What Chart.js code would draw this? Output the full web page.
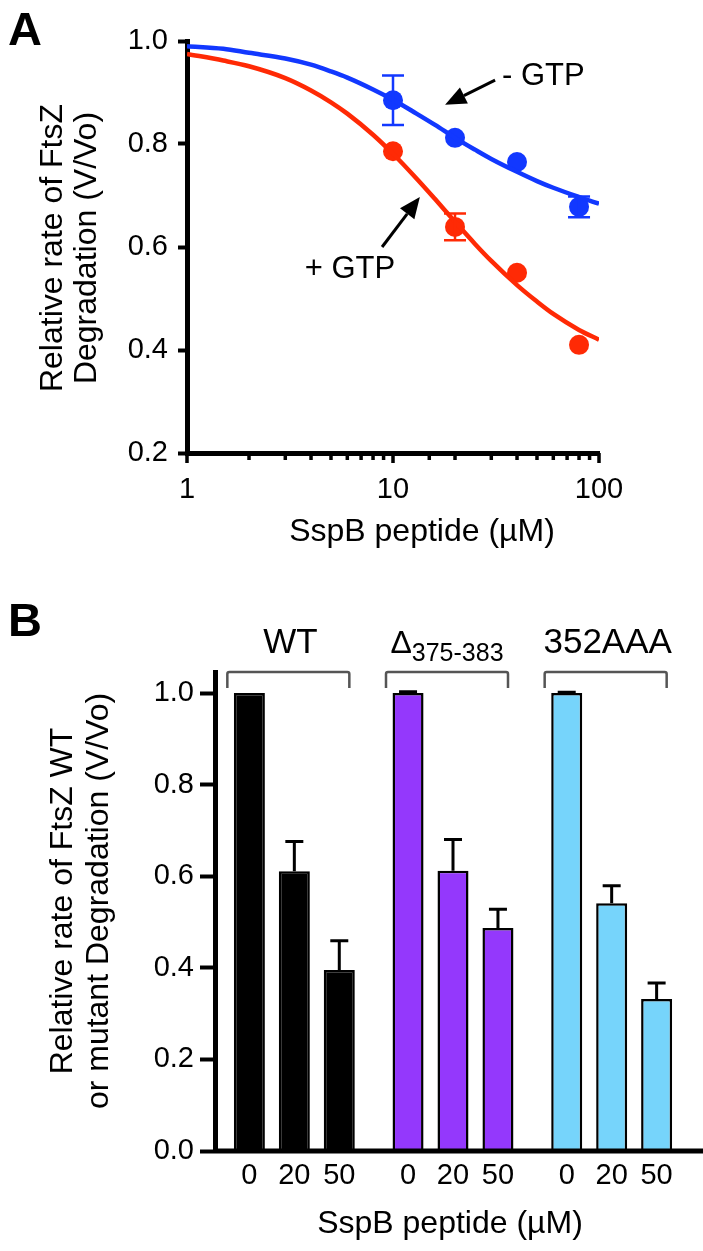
<!DOCTYPE html>
<html>
<head>
<meta charset="utf-8">
<script src="https://cdn.jsdelivr.net/npm/chart.js@4.4.1/dist/chart.umd.min.js"></script>
<style>
  html, body { margin: 0; padding: 0; background: #fff; }
  #wrap { position: relative; width: 703px; height: 1251px; }
  #cA { position: absolute; left: 0; top: 0; }
  #cB { position: absolute; left: 0; top: 600px; }
</style>
</head>
<body>
<div id="wrap">
  <canvas id="cA" width="703" height="600"></canvas>
  <canvas id="cB" width="703" height="651"></canvas>
</div>
<script>
// --- Panel A data ---
const concA = [10, 20, 40, 80];
const minusGTP = [0.885, 0.812, 0.765, 0.678];
const minusGTPErr = [0.048, 0, 0, 0.02];
const plusGTP = [0.786, 0.639, 0.550, 0.410];
const plusGTPErr = [0, 0.026, 0, 0];
// fitted curves
const fitX = [1, 1.5, 2, 3, 4, 5, 6, 8, 10, 13, 16, 20, 25, 30, 40, 50, 60, 80, 100];
const fitMinus = [0.990, 0.985, 0.977, 0.966, 0.954, 0.941, 0.929, 0.906, 0.886, 0.859, 0.837, 0.812, 0.789, 0.771, 0.746, 0.728, 0.715, 0.697, 0.684];
const fitPlus = [0.975, 0.962, 0.951, 0.928, 0.904, 0.881, 0.859, 0.818, 0.781, 0.733, 0.693, 0.649, 0.606, 0.573, 0.526, 0.494, 0.470, 0.439, 0.420];
const yTicksA = [0.2, 0.4, 0.6, 0.8, 1.0];
const xLabelsA = [1, 10, 100];

// --- Panel B data ---
const groupsB = ['WT', '\u0394375-383', '352AAA'];
const dosesB = ['0', '20', '50'];
const wtRate = [1.0, 0.611, 0.395];
const wtErr = [0, 0.065, 0.064];
const delRate = [1.0, 0.612, 0.487];
const delErr = [0.003, 0.068, 0.041];
const aaaRate = [1.0, 0.541, 0.332];
const aaaErr = [0.002, 0.038, 0.035];
const yTicksB = [0, 0.2, 0.4, 0.6, 0.8, 1.0];

// --- Style ---
const FONT = "'Liberation Sans', Arial, Helvetica, sans-serif";
const BLUE = '#1238ff', RED = '#ff2a05';
const BLACK = '#000000', PURPLE = '#9438fc', CYAN = '#76d4fb';
Chart.defaults.font.family = FONT;
Chart.defaults.color = '#000';

function arrow(ctx, x1, y1, x2, y2){
  const a = Math.atan2(y2 - y1, x2 - x1), L = 21, W = 9;
  const bx = x2 - L * Math.cos(a), by = y2 - L * Math.sin(a);
  ctx.beginPath(); ctx.moveTo(x1, y1); ctx.lineTo(bx, by); ctx.stroke();
  ctx.beginPath();
  ctx.moveTo(x2, y2);
  ctx.lineTo(bx + W * Math.sin(a), by - W * Math.cos(a));
  ctx.lineTo(bx - W * Math.sin(a), by + W * Math.cos(a));
  ctx.closePath(); ctx.fill();
}
function yTitle(ctx, lines, xs, cy, size){
  ctx.save();
  ctx.font = `${size}px ${FONT}`; ctx.textAlign = 'center'; ctx.textBaseline = 'alphabetic';
  lines.forEach((t, i) => {
    ctx.save(); ctx.translate(xs[i], cy); ctx.rotate(-Math.PI / 2); ctx.fillText(t, 0, 0); ctx.restore();
  });
  ctx.restore();
}

// --- Panel A ---
const annotA = {
  id: 'annotA',
  afterDatasetsDraw(chart){
    const { ctx, scales: { x, y } } = chart;
    ctx.save();
    ctx.lineWidth = 2.5;
    [[minusGTP, minusGTPErr, BLUE], [plusGTP, plusGTPErr, RED]].forEach(([vals, errs, col]) => {
      ctx.strokeStyle = col;
      concA.forEach((c, i) => {
        if (!errs[i]) return;
        const px = x.getPixelForValue(c);
        const y1 = y.getPixelForValue(vals[i] + errs[i]), y2 = y.getPixelForValue(vals[i] - errs[i]);
        ctx.beginPath();
        ctx.moveTo(px, y1); ctx.lineTo(px, y2);
        ctx.moveTo(px - 11, y1); ctx.lineTo(px + 11, y1);
        ctx.moveTo(px - 11, y2); ctx.lineTo(px + 11, y2);
        ctx.stroke();
      });
    });
    ctx.restore();
  },
  afterDraw(chart){
    const { ctx, chartArea: ca, scales: { x, y } } = chart;
    ctx.save();
    // x tick marks (major longer)
    ctx.fillStyle = '#000';
    x.ticks.forEach(t => {
      const px = x.getPixelForValue(t.value);
      const major = xLabelsA.includes(t.value);
      ctx.fillRect(px - 1.75, ca.bottom, 3.5, major ? 10 : 7);
    });
    // panel letter
    ctx.font = `bold 47px ${FONT}`; ctx.textAlign = 'left'; ctx.textBaseline = 'alphabetic';
    ctx.fillText('A', 8, 45);
    // titles
    ctx.font = `32px ${FONT}`; ctx.textAlign = 'center';
    ctx.fillText('SspB peptide (\u00b5M)', 422, 541);
    yTitle(ctx, ['Relative rate of FtsZ', 'Degradation (V/Vo)'], [62, 96], 248, 32);
    // annotations
    ctx.strokeStyle = '#000'; ctx.lineWidth = 3;
    arrow(ctx, x.getPixelForValue(31.3), y.getPixelForValue(0.924), x.getPixelForValue(17.9), y.getPixelForValue(0.876));
    arrow(ctx, x.getPixelForValue(8.85), y.getPixelForValue(0.60), x.getPixelForValue(13.5), y.getPixelForValue(0.697));
    ctx.font = `31px ${FONT}`;
    ctx.textAlign = 'left';
    ctx.fillText('- GTP', x.getPixelForValue(33.8), y.getPixelForValue(0.915));
    ctx.textAlign = 'center';
    ctx.fillText('+ GTP', x.getPixelForValue(6.18), y.getPixelForValue(0.54));
    ctx.restore();
  }
};

new Chart(document.getElementById('cA'), {
  type: 'line',
  data: {
    datasets: [
      { data: fitX.map((v, i) => ({ x: v, y: fitMinus[i] })), borderColor: BLUE, borderWidth: 4.5, pointRadius: 0, cubicInterpolationMode: 'monotone' },
      { data: fitX.map((v, i) => ({ x: v, y: fitPlus[i] })), borderColor: RED, borderWidth: 4.5, pointRadius: 0, cubicInterpolationMode: 'monotone' },
      { data: concA.map((v, i) => ({ x: v, y: minusGTP[i] })), showLine: false, pointRadius: 10, pointBackgroundColor: BLUE, pointBorderWidth: 0 },
      { data: concA.map((v, i) => ({ x: v, y: plusGTP[i] })), showLine: false, pointRadius: 10, pointBackgroundColor: RED, pointBorderWidth: 0 }
    ]
  },
  options: {
    responsive: false, animation: false,
    layout: { padding: { top: 41, right: 104, left: 0, bottom: 0 } },
    plugins: { legend: { display: false }, tooltip: { enabled: false } },
    scales: {
      x: {
        type: 'logarithmic', min: 1, max: 100,
        afterFit: s => { s.height = 147; },
        grid: { display: true, drawOnChartArea: false, drawTicks: true, tickLength: 10, color: 'rgba(0,0,0,0)' },
        border: { display: true, color: '#000', width: 5 },
        ticks: { autoSkip: false, maxRotation: 0, padding: 10, font: { size: 29 },
          callback: v => xLabelsA.includes(v) ? String(v) : '' }
      },
      y: {
        min: 0.2, max: 1.0,
        afterFit: s => { s.width = 187; },
        afterBuildTicks: s => { s.ticks = yTicksA.map(v => ({ value: v })); },
        grid: { drawOnChartArea: false, tickLength: 9, tickWidth: 4, color: '#000' },
        border: { display: true, color: '#000', width: 5 },
        ticks: { padding: 10, font: { size: 29 }, callback: v => Number(v).toFixed(1) }
      }
    }
  },
  plugins: [annotA]
});

// --- Panel B ---
const rowsB = [wtRate, delRate, aaaRate];
const errsB = [wtErr, delErr, aaaErr];
const groupColors = [BLACK, PURPLE, CYAN];

const annotB = {
  id: 'annotB',
  afterDatasetsDraw(chart){
    const { ctx, scales: { y } } = chart;
    ctx.save();
    ctx.strokeStyle = '#000'; ctx.lineWidth = 3;
    dosesB.forEach((d, j) => {
      chart.getDatasetMeta(j).data.forEach((bar, i) => {
        const e = errsB[i][j]; if (!e) return;
        const yt = y.getPixelForValue(rowsB[i][j] + e), yb = y.getPixelForValue(rowsB[i][j]);
        ctx.beginPath();
        ctx.moveTo(bar.x, yb); ctx.lineTo(bar.x, yt);
        ctx.moveTo(bar.x - 9, yt); ctx.lineTo(bar.x + 9, yt);
        ctx.stroke();
      });
    });
    ctx.restore();
  },
  afterDraw(chart){
    const { ctx, chartArea: ca, scales: { x, y } } = chart;
    ctx.save();
    // x baseline to the right edge
    ctx.fillStyle = '#000';
    const y0 = y.getPixelForValue(0);
    ctx.fillRect(ca.left - 2, y0 - 2.5, chart.width - ca.left + 2, 5);
    // dose labels under bars
    ctx.font = `29px ${FONT}`; ctx.textAlign = 'center'; ctx.textBaseline = 'alphabetic';
    dosesB.forEach((d, j) => chart.getDatasetMeta(j).data.forEach(bar => ctx.fillText(d, bar.x, y0 + 33)));
    // brackets + group labels
    ctx.strokeStyle = '#555'; ctx.lineWidth = 2.5; ctx.lineJoin = 'round';
    groupsB.forEach((g, i) => {
      const c = x.getPixelForValue(i) - 6, h = 61, t = ca.top;
      ctx.beginPath();
      ctx.moveTo(c - h, t + 16); ctx.lineTo(c - h, t + 2); ctx.quadraticCurveTo(c - h, t, c - h + 2, t);
      ctx.lineTo(c + h - 2, t); ctx.quadraticCurveTo(c + h, t, c + h, t + 2); ctx.lineTo(c + h, t + 16);
      ctx.stroke();
      const base = t - 19;
      if (g.startsWith('\u0394')) {
        ctx.font = `32px ${FONT}`; const w1 = ctx.measureText('\u0394').width;
        ctx.font = `25px ${FONT}`; const w2 = ctx.measureText(g.slice(1)).width;
        const sx = c - (w1 + w2) / 2;
        ctx.textAlign = 'left';
        ctx.font = `32px ${FONT}`; ctx.fillText('\u0394', sx, base);
        ctx.font = `25px ${FONT}`; ctx.fillText(g.slice(1), sx + w1, base + 8);
        ctx.textAlign = 'center';
      } else {
        ctx.font = `35px ${FONT}`; ctx.fillText(g, c + 2, base);
      }
    });
    // panel letter and titles
    ctx.font = `bold 47px ${FONT}`; ctx.textAlign = 'left';
    ctx.fillText('B', 8, 36);
    ctx.font = `32px ${FONT}`; ctx.textAlign = 'center';
    ctx.fillText('SspB peptide (\u00b5M)', 450, y0 + 82);
    yTitle(ctx, ['Relative rate of FtsZ WT', 'or mutant Degradation (V/Vo)'], [72, 108], 301, 32);
    ctx.restore();
  }
};

new Chart(document.getElementById('cB'), {
  type: 'bar',
  data: {
    labels: groupsB,
    datasets: dosesB.map((d, j) => ({
      label: d,
      data: rowsB.map(r => r[j]),
      backgroundColor: groupColors,
      borderColor: '#000',
      borderWidth: 2.5,
      borderSkipped: 'bottom',
      categoryPercentage: 0.85,
      barPercentage: 0.69
    }))
  },
  options: {
    responsive: false, animation: false,
    layout: { padding: { top: 72, right: 12, left: 0, bottom: 0 } },
    plugins: { legend: { display: false }, tooltip: { enabled: false } },
    scales: {
      x: {
        afterFit: s => { s.height = 100; },
        grid: { display: false },
        border: { display: false },
        ticks: { display: false }
      },
      y: {
        min: 0, max: 1.046,
        afterFit: s => { s.width = 215; },
        afterBuildTicks: s => { s.ticks = yTicksB.map(v => ({ value: v })); },
        grid: { drawOnChartArea: false, tickLength: 15, tickWidth: 4, color: '#000' },
        border: { display: true, color: '#000', width: 5 },
        ticks: { padding: 6, font: { size: 29 }, callback: v => Number(v).toFixed(1) }
      }
    }
  },
  plugins: [annotB]
});
</script>
</body>
</html>
